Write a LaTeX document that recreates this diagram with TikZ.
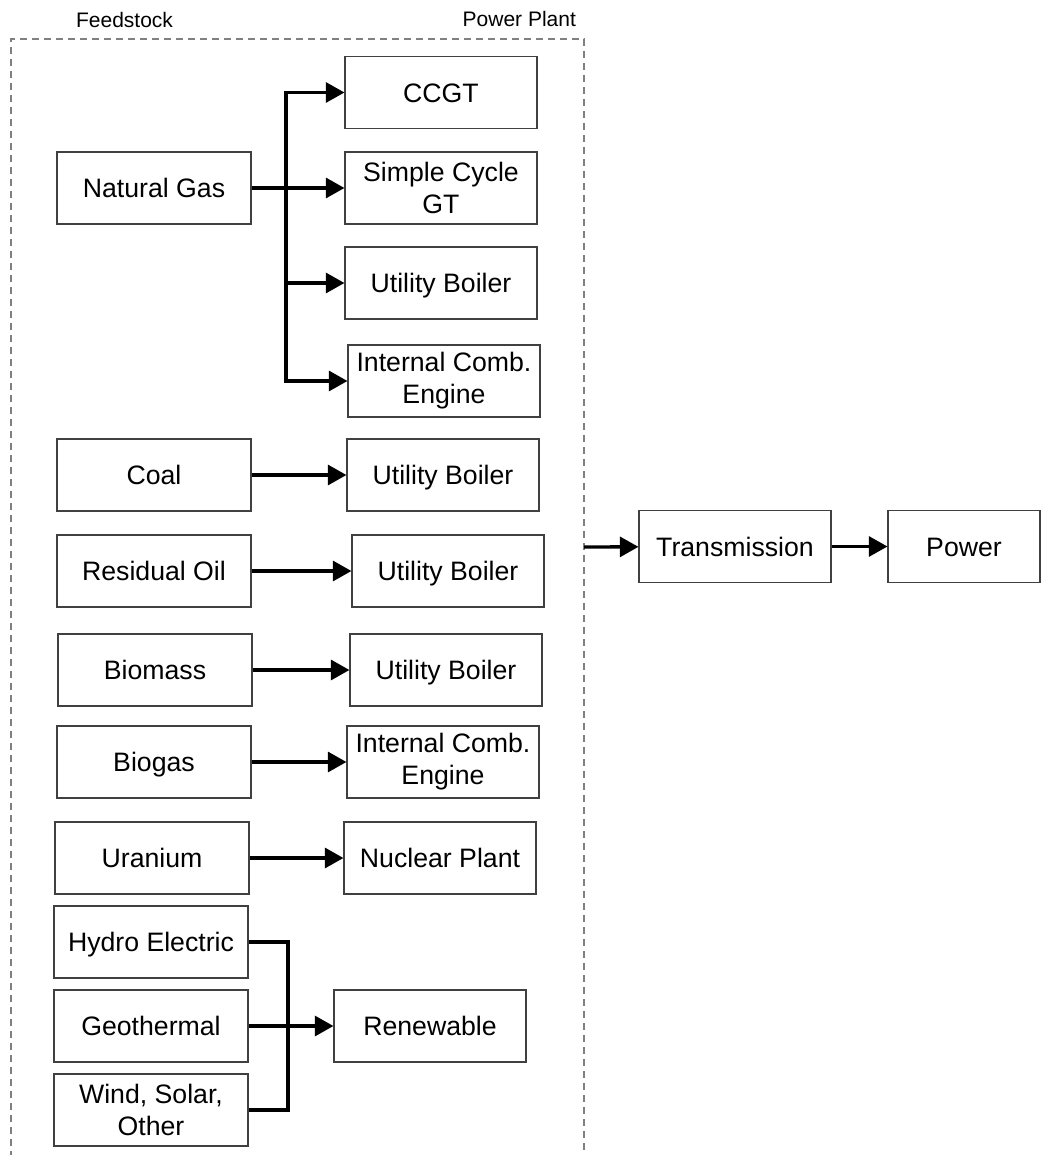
\documentclass[tikz,border=0pt]{standalone}
\usepackage{fontspec}
\setmainfont{Liberation Sans}
\usepackage{tikz}
\usetikzlibrary{arrows.meta}

\begin{document}
\begin{tikzpicture}[
        x=0.75pt, y=-0.75pt,
        every node/.style={font=\fontsize{20}{24}\selectfont},
        fuel/.style={rectangle, draw=black!75, line width=0.8pt, minimum width=145.5pt, minimum height=54pt, inner sep=0pt, align=center, text height=14.4pt, text depth=0pt},
        plant/.style={fuel, minimum width=144pt},
        twoline/.style={text height=, text depth=},
        grid/.style={fuel, minimum width=144pt},
        frame/.style={draw=black!50, line width=0.9pt, dash pattern=on 5.6pt off 3.4pt},
        caption/.style={font=\fontsize{15.75}{18}\selectfont},
        >={Triangle[length=14pt, width=15pt]},
        line width=2.5pt
    ]
    \useasboundingbox (0,0) rectangle (1042,1155);

    % Frame of the power plant
    \draw[frame] (11,1170) -- (11,39) -- (584,39) -- (584,1170);
    \node[caption, anchor=base west] at (70,28) (feed) {Feedstock};
    \node[caption, anchor=base east] at (582,27) (pp) {Power Plant};

    % Natural gas
    \node[fuel] at (154,188) (ng) {Natural Gas};
    \node[plant] at (441,92.5) (ccgt) {CCGT};
    \node[plant, twoline] at (441,188) (scgt) {Simple Cycle\\GT};
    \node[plant] at (441,283) (ub1) {Utility Boiler};
    \node[plant, twoline] at (444,381) (ice1) {Internal Comb.\\Engine};

    % Other feedstocks
    \node[fuel] at (154,475) (coal) {Coal};
    \node[plant] at (443,475) (ub2) {Utility Boiler};
    \node[fuel] at (154,571) (oil) {Residual Oil};
    \node[plant] at (448,571) (ub3) {Utility Boiler};
    \node[fuel] at (155,670) (bio) {Biomass};
    \node[plant] at (446,670) (ub4) {Utility Boiler};
    \node[fuel] at (154,762) (biogas) {Biogas};
    \node[plant, twoline] at (443,762) (ice2) {Internal Comb.\\Engine};
    \node[fuel] at (152,858) (uran) {Uranium};
    \node[plant] at (440,858) (nuc) {Nuclear Plant};

    % Renewables
    \node[fuel] at (151,942) (hydro) {Hydro Electric};
    \node[fuel] at (151,1026) (geo) {Geothermal};
    \node[fuel, twoline] at (151,1110) (wind) {Wind, Solar,\\Other};
    \node[plant] at (430,1026) (ren) {Renewable};

    % Grid
    \node[grid] at (735,546.5) (trans) {Transmission};
    \node[grid, minimum width=114pt] at (964,546.5) (power) {Power};

    % Bus points
    \coordinate (ngbus) at (286,188);
    \coordinate (renbus) at (288,1026);
    \coordinate (ppout) at (584,547);

    % Arrows
    \draw[->] (ng) -- (scgt);
    \draw[->] (ngbus) |- (ccgt);
    \draw[->] (ngbus) |- (ub1);
    \draw[->] (ngbus) |- (ice1);
    \draw[->] (coal) -- (ub2);
    \draw[->] (oil) -- (ub3);
    \draw[->] (bio) -- (ub4);
    \draw[->] (biogas) -- (ice2);
    \draw[->] (uran) -- (nuc);

    % Renewable bus
    \draw (hydro.east) -| (renbus);
    \draw (wind.east) -| (renbus);
    \draw[->] (geo) -- (ren);

    % To the grid
    \draw[->] (ppout) -- (trans);
    \draw[->] (trans) -- (power);

\end{tikzpicture}
\end{document}
